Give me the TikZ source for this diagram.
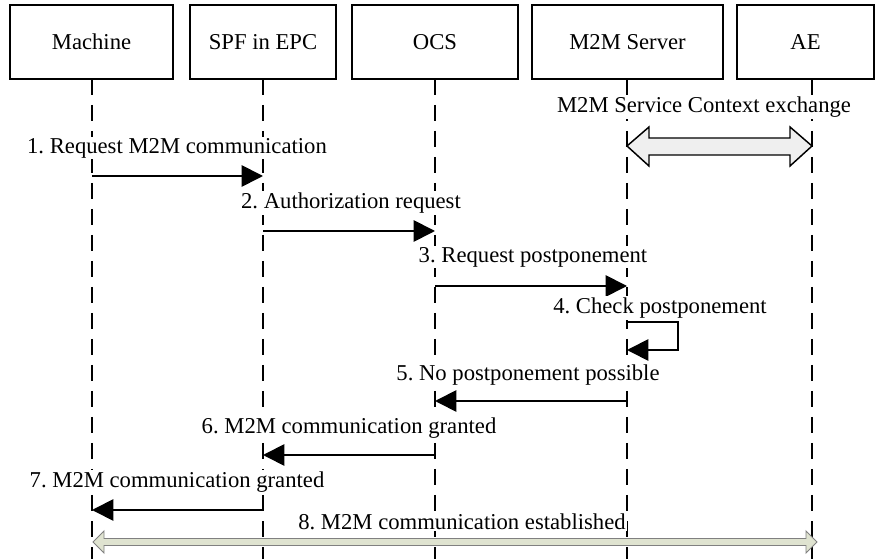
\documentclass[tikz,border=0pt]{standalone}
\usepackage{fontspec}
\setmainfont{Liberation Serif}
\frenchspacing
\usetikzlibrary{arrows.meta,calc}
\definecolor{grigio}{HTML}{EFEFEF}
\definecolor{verdino}{HTML}{DFE3D0}
\tikzset{
  ente/.style  = {rectangle, draw, line width=1.3pt, minimum height=55.5pt, inner sep=0, font=\fontsize{17}{20}\selectfont},
  vita/.style  = {line width=1.3pt, dash pattern=on 12pt off 7.5pt},
  msg/.style   = {line width=1.3pt, -{Triangle[length=16pt,width=16pt]}},
  et/.style    = {fill=white, inner sep=1pt, font=\fontsize{17}{20}\selectfont},
  grosso/.style = {draw, line width=1.1pt, fill=grigio},
  fine/.style  = {draw=gray, line width=0.7pt, fill=verdino}
}
\begin{document}
\begin{tikzpicture}[x=0.75pt, y=-0.75pt]
  \useasboundingbox (0,0) rectangle (875,559);
  % entities
  \node[ente, minimum width=122.25pt] (mac) at (91.5,42)  {Machine};
  \node[ente, minimum width=109.5pt]  (spf) at (263,42)   {SPF in EPC};
  \node[ente, minimum width=124.5pt]  (ocs) at (435,42)   {OCS};
  \node[ente, minimum width=143.25pt] (srv) at (627.5,42) {M2M Server};
  \node[ente, minimum width=102.75pt] (ae)  at (805.5,42) {AE};
  % lifelines
  \foreach \n/\x in {mac/92, spf/263, ocs/435, srv/627, ae/812} {
    \coordinate (\n t) at (\x,79); \coordinate (\n b) at (\x,559);
    \draw[vita] (\n t) -- (\n b);
  }
  % service context exchange
  \node[et] (ctx) at (704,107) {M2M Service Context exchange};
  \coordinate (ctxL) at (srvt |- 0,146); \coordinate (ctxR) at (aet |- 0,146);
  \draw[grosso] (ctxL) -- ++(22,-19) -- ++(0,11) -- ++(141,0) -- ++(0,-11) -- (ctxR)
    -- ++(-22,20) -- ++(0,-11) -- ++(-141,0) -- ++(0,11) -- cycle;
  % messages
  \node[et] (t1) at (177,148) {1. Request M2M communication};
  \draw[msg] (mact |- 0,176) -- (spft |- 0,176);
  \node[et] (t2) at (351,203) {2. Authorization request};
  \draw[msg] (spft |- 0,231) -- (ocst |- 0,231);
  \node[et] (t3) at (533,257) {3. Request postponement};
  \draw[msg] (ocst |- 0,286) -- (srvt |- 0,286);
  \node[et] (t4) at (660,308) {4. Check postponement};
  \draw[msg] (srvt |- 0,322) -| (678,350) -- (srvt |- 0,350);
  \node[et] (t5) at (528,375) {5. No postponement possible};
  \draw[msg] (srvt |- 0,401) -- (ocst |- 0,401);
  \node[et] (t6) at (349,428) {6. M2M communication granted};
  \draw[msg] (ocst |- 0,455) -- (spft |- 0,455);
  \node[et] (t7) at (177,482) {7. M2M communication granted};
  \draw[msg] (spft |- 0,510) -- (mact |- 0,510);
  % established
  \node[et] (t8) at (462,522) {8. M2M communication established};
  \coordinate (estL) at (93,542); \coordinate (estR) at (817,542);
  \draw[fine] (estL) -- ++(11,-11) -- ++(0,7.5) -- ++(702,0) -- ++(0,-7.5) -- (estR)
    -- ++(-11,11) -- ++(0,-7.5) -- ++(-702,0) -- ++(0,7.5) -- cycle;
\end{tikzpicture}
\end{document}
